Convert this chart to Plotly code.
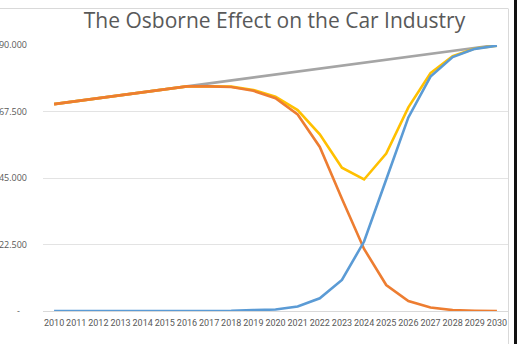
import plotly.graph_objects as go

# Yearly car sales: old technology, new technology, combined total, and the
# trend the total would have followed without the Osborne effect.
years = [2010, 2011, 2012, 2013, 2014, 2015, 2016, 2017, 2018, 2019, 2020,
         2021, 2022, 2023, 2024, 2025, 2026, 2027, 2028, 2029, 2030]

trend_total = [70000, 71000, 72000, 73000, 74000, 75000, 76000, 77000, 78000, 79000, 80000,
               81000, 82000, 83000, 84000, 85000, 86000, 87000, 88000, 89000, 90000]

actual_total = [70000, 71000, 72000, 73000, 74000, 75000, 76000, 76050, 75900, 74800, 72500,
                68000, 59800, 48500, 44500, 53300, 68900, 80500, 86200, 88800, 89800]

old_tech = [70000, 71000, 72000, 73000, 74000, 75000, 76000, 76000, 75800, 74500, 72000,
            66500, 55500, 38000, 21000, 8800, 3400, 1200, 300, 100, 0]

new_tech = [0, 0, 0, 0, 0, 0, 0, 50, 100, 300, 500,
            1500, 4300, 10500, 23500, 44500, 65500, 79300, 85900, 88700, 89800]

y_ticks = [0, 22500, 45000, 67500, 90000]
y_tick_text = ["-\u00a0\u00a0\u00a0", "22.500", "45.000", "67.500", "90.000"]

fig = go.Figure()
line_w = 2.6
fig.add_trace(go.Scatter(x=years, y=trend_total, mode="lines",
                         line=dict(color="#A5A5A5", width=line_w)))
fig.add_trace(go.Scatter(x=years, y=actual_total, mode="lines",
                         line=dict(color="#FFC000", width=line_w)))
fig.add_trace(go.Scatter(x=years, y=old_tech, mode="lines",
                         line=dict(color="#ED7D31", width=line_w)))
fig.add_trace(go.Scatter(x=years, y=new_tech, mode="lines",
                         line=dict(color="#5B9BD5", width=line_w)))

# plot area spans x 43..508 px, y 45..311 px
L, R, T, B = 43, 9, 45, 33
W, H = 517, 344
pw, ph = W - L - R, H - T - B

def px_x(x):
    return (x - L) / pw

def px_y(y):
    return (H - B - y) / ph

fig.update_layout(
    width=W, height=H,
    margin=dict(l=L, r=R, t=T, b=B, autoexpand=False),
    paper_bgcolor="white", plot_bgcolor="white",
    showlegend=False,
    title=dict(text="The Osborne Effect on the Car Industry",
               x=274.5 / W, xanchor="center", y=1 - 21 / H, yanchor="middle",
               font=dict(family="Open Sans", size=21, color="#595959")),
    xaxis=dict(range=[2009.5, 2030.5], tickmode="array", tickvals=years,
               ticktext=[str(y) for y in years], showgrid=False,
               showline=True, linecolor="#D9D9D9", linewidth=1,
               ticks="", ticklabelstandoff=3, tickangle=0, automargin=False,
               tickfont=dict(family="Roboto", size=9, color="#595959"),
               fixedrange=True),
    yaxis=dict(range=[0, 90000], tickmode="array", tickvals=y_ticks,
               ticktext=y_tick_text, showgrid=True, gridcolor="#E3E3E3",
               gridwidth=1, zeroline=False, showline=False, ticks="",
               ticklabelstandoff=15, automargin=False,
               tickfont=dict(family="Open Sans", size=9, color="#595959"),
               fixedrange=True),
    shapes=[
        # chart frame: top and right edges
        dict(type="line", xref="paper", yref="paper",
             x0=px_x(0), x1=px_x(508), y0=px_y(8.5), y1=px_y(8.5),
             line=dict(color="#D9D9D9", width=1)),
        dict(type="line", xref="paper", yref="paper",
             x0=px_x(508.5), x1=px_x(508.5), y0=px_y(8.5), y1=px_y(344),
             line=dict(color="#D9D9D9", width=1)),
        # dark edge on the far right
        dict(type="rect", xref="paper", yref="paper",
             x0=px_x(514), x1=px_x(517), y0=px_y(0), y1=px_y(344),
             fillcolor="#111111", line=dict(width=0)),
    ],
)

fig.write_html("out.html")
